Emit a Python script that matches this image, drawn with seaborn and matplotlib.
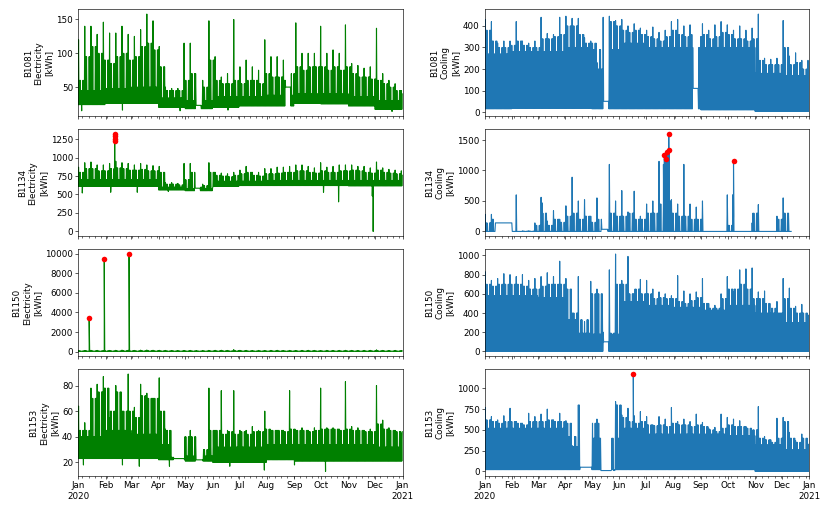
import numpy as np
import pandas as pd
import matplotlib
matplotlib.use("Agg")
import matplotlib.pyplot as plt
import matplotlib.dates as mdates
import seaborn as sns

# weekly peak / weekly typical weekday high, monthly weekend high and night low,
# all read off the reference picture
B1081_ELEC_PEAK = [120, 140, 140, 128, 146, 130, 130, 140, 128, 125, 135, 158, 148, 110, 50, 48, 48, 115,
                   115, 55, 60, 148, 95, 65, 70, 150, 80, 90, 80, 75, 120, 95, 95, 90, 105, 145, 100, 100,
                   100, 140, 100, 105, 100, 142, 85, 82, 78, 80, 137, 70, 60, 55, 45]
B1081_ELEC_BASE = [60, 95, 110, 100, 90, 85, 95, 100, 90, 95, 110, 115, 105, 80, 45, 45, 45, 60,
                   70, 22, 50, 90, 60, 55, 55, 60, 55, 60, 60, 55, 70, 65, 65, 60, 70, 80, 75, 80,
                   80, 80, 75, 80, 75, 80, 70, 65, 65, 62, 60, 55, 50, 45, 40]
B1081_ELEC_WEEKEND = [45, 48, 50, 34, 30, 36, 36, 38, 40, 40, 36, 30]
B1081_ELEC_FLOOR = [24, 26, 26, 20, 18, 20, 22, 22, 26, 25, 22, 17]
B1081_ELEC_FLATS = [("2020-05-13", "2020-05-18", 23), ("2020-08-22", "2020-08-27", 50)]
B1081_ELEC_SPIKES = [("2020-01-05 03:00", 15), ("2020-02-20 03:00", 16), ("2020-04-25 03:00", 15),
                     ("2020-06-18 03:00", 16), ("2020-12-20 03:00", 14)]

B1081_COOL_PEAK = [430, 420, 320, 330, 330, 420, 330, 320, 330, 440, 365, 360, 440, 445, 435, 435, 345, 330,
                   230, 440, 445, 425, 430, 400, 410, 390, 380, 395, 370, 380, 420, 430, 400, 405, 400, 410,
                   380, 405, 420, 405, 380, 400, 380, 390, 455, 250, 245, 250, 425, 260, 275, 240, 240]
B1081_COOL_BASE = [380, 330, 300, 300, 310, 330, 310, 300, 300, 340, 340, 350, 360, 400, 400, 360, 320, 320,
                   200, 440, 420, 400, 380, 370, 380, 360, 350, 340, 330, 350, 380, 360, 350, 360, 350, 360,
                   340, 350, 370, 360, 340, 340, 330, 340, 240, 220, 220, 220, 300, 220, 230, 200, 200]
B1081_COOL_WEEKEND = [270, 280, 280, 300, 290, 320, 300, 300, 300, 300, 180, 170]
B1081_COOL_FLOOR = [15, 18, 18, 18, 15, 15, 15, 15, 10, 10, 3, 3]
B1081_COOL_FLATS = [("2020-05-14", "2020-05-19", 50), ("2020-08-23", "2020-08-28", 110)]

B1134_ELEC_PEAK = [870, 930, 940, 900, 900, 920, 950, 930, 920, 900, 920, 900, 890, 880, 660, 660, 650, 920,
                   920, 640, 640, 930, 800, 790, 780, 800, 830, 880, 800, 800, 850, 850, 870, 870, 880, 900,
                   900, 880, 860, 930, 870, 880, 900, 900, 900, 880, 880, 860, 940, 860, 840, 830, 820]
B1134_ELEC_BASE = [800, 850, 850, 820, 820, 850, 860, 850, 830, 830, 840, 820, 820, 800, 640, 640, 630, 700,
                   800, 600, 620, 800, 760, 750, 740, 760, 780, 800, 760, 750, 780, 780, 790, 800, 800, 820,
                   820, 800, 790, 820, 800, 800, 820, 820, 830, 820, 800, 790, 830, 800, 790, 780, 760]
B1134_ELEC_WEEKEND = [700, 700, 700, 600, 580, 680, 680, 690, 690, 690, 690, 690]
B1134_ELEC_FLOOR = [610, 610, 610, 560, 550, 610, 620, 620, 620, 620, 615, 615]
B1134_ELEC_FLATS = [("2020-05-12", "2020-05-17", 585)]
B1134_ELEC_SPIKES = [("2020-01-05 20:00", 520), ("2020-02-06 20:00", 530), ("2020-03-07 20:00", 530),
                     ("2020-04-11 20:00", 540), ("2020-10-03 20:00", 530), ("2020-10-20 20:00", 400),
                     ("2020-11-27 20:00", 480), ("2020-11-28 20:00", 0)]
B1134_ELEC_OUT = [("2020-02-11 06:00", 1318), ("2020-02-11 08:00", 1291), ("2020-02-11 10:00", 1246),
                  ("2020-02-11 12:00", 1224)]

B1134_COOL_PEAK = [280, 280, 140, 140, 300, 600, 10, 10, 140, 560, 170, 340, 200, 420, 890, 500, 520, 250,
                   550, 470, 1100, 500, 670, 320, 660, 250, 450, 500, 1150, 1150, 520, 450, 1100, 450, 400,
                   500, 0, 0, 0, 600, 250, 0, 0, 140, 440, 0, 0, 250, 550, 0, 0, 0, 0]
B1134_COOL_BASE = [140, 200, 140, 140, 0, 0, 5, 5, 100, 300, 100, 200, 150, 250, 300, 200, 250, 150,
                   200, 30, 300, 250, 250, 300, 200, 200, 300, 300, 450, 500, 300, 250, 250, 200, 200, 0,
                   0, 0, 0, 100, 0, 0, 0, 300, 0, 0, 0, 200, 300, 0, 0, 0, 0]
B1134_COOL_WEEKEND = [0, 0, 0, 0, 0, 0, 0, 0, 0, 0, 0, 0]
B1134_COOL_FLOOR = [0, 0, 0, 0, 0, 0, 0, 0, 0, 0, 0, 0]
B1134_COOL_FLATS = [("2020-01-13", "2020-01-31", 140), ("2020-05-12", "2020-05-18", 35),
                    ("2020-12-12", "2020-12-31", np.nan)]
B1134_COOL_SPIKES = [("2020-03-05 14:00", 470), ("2020-07-20 14:00", 1100), ("2020-07-22 14:00", 1150),
                     ("2020-07-25 14:00", 1150), ("2020-10-06 14:00", 600)]
B1134_COOL_OUT = [("2020-07-21 14:00", 1262), ("2020-07-23 14:00", 1196), ("2020-07-24 14:00", 1306),
                  ("2020-07-26 10:00", 1344), ("2020-07-26 14:00", 1598), ("2020-10-07 14:00", 1150)]

B1150_ELEC_PEAK = [120, 110, 130, 120, 110, 120, 130, 150, 140, 120, 150, 160, 140, 130, 120, 110, 100, 110,
                   120, 100, 110, 120, 130, 140, 120, 200, 130, 120, 110, 120, 110, 120, 130, 110, 120, 110,
                   120, 130, 120, 110, 120, 110, 120, 130, 120, 110, 120, 130, 180, 120, 110, 120, 110]
B1150_ELEC_BASE = [70, 80, 75, 70, 80, 75, 70, 90, 80, 75, 85, 90, 80, 75, 70, 70, 65, 70,
                   70, 60, 65, 70, 75, 80, 70, 90, 75, 70, 65, 70, 65, 70, 75, 65, 70, 65,
                   70, 75, 70, 65, 70, 65, 70, 75, 70, 65, 70, 75, 80, 70, 65, 70, 65]
B1150_ELEC_WEEKEND = [40, 40, 40, 40, 40, 40, 40, 40, 40, 40, 40, 40]
B1150_ELEC_FLOOR = [20, 20, 20, 20, 20, 20, 20, 20, 20, 20, 20, 20]
B1150_ELEC_OUT = [("2020-01-13 14:00", 3470), ("2020-01-30 14:00", 9520), ("2020-02-27 14:00", 9980)]

B1150_COOL_PEAK = [830, 740, 760, 810, 800, 780, 800, 740, 760, 780, 820, 780, 940, 760, 400, 780, 310, 730,
                   650, 200, 850, 1015, 740, 990, 600, 750, 740, 650, 620, 600, 580, 790, 630, 600, 620, 760,
                   500, 480, 600, 780, 620, 850, 860, 870, 620, 630, 400, 520, 760, 660, 470, 490, 380]
B1150_COOL_BASE = [700, 680, 700, 700, 700, 700, 680, 650, 650, 680, 700, 700, 700, 650, 400, 190, 190, 600,
                   600, 100, 190, 700, 700, 600, 650, 600, 600, 550, 560, 550, 550, 520, 500, 530, 560, 500,
                   450, 450, 550, 650, 650, 700, 650, 550, 550, 500, 450, 400, 550, 450, 400, 400, 350]
B1150_COOL_WEEKEND = [580, 580, 560, 330, 180, 520, 480, 460, 430, 480, 400, 300]
B1150_COOL_FLOOR = [0, 0, 0, 0, 0, 0, 0, 0, 0, 0, 0, 0]
B1150_COOL_FLATS = [("2020-05-14", "2020-05-19", 100)]

B1153_ELEC_PEAK = [64, 51, 78, 81, 87, 55, 80, 60, 89, 63, 81, 74, 70, 86, 46, 24, 24, 86, 45, 22, 53, 78,
                   45, 76, 45, 76, 45, 45, 48, 45, 60, 45, 45, 45, 76, 45, 47, 45, 47, 78, 47, 47, 46, 83,
                   48, 47, 45, 46, 80, 53, 47, 45, 43]
B1153_ELEC_BASE = [45, 45, 70, 75, 78, 60, 75, 60, 60, 55, 72, 70, 70, 60, 45, 24, 24, 40, 40, 22, 30, 45,
                   45, 42, 44, 42, 44, 42, 44, 44, 46, 45, 45, 44, 46, 45, 45, 44, 45, 46, 46, 46, 45, 46,
                   45, 45, 44, 44, 50, 46, 45, 44, 44]
B1153_ELEC_WEEKEND = [40, 45, 42, 34, 25, 32, 32, 34, 34, 34, 34, 32]
B1153_ELEC_FLOOR = [23, 23, 23, 22, 21, 20, 20, 22, 21, 21, 21, 21]
B1153_ELEC_FLATS = [("2020-04-18", "2020-04-29", 23), ("2020-05-13", "2020-05-20", 22)]
B1153_ELEC_SPIKES = [("2020-01-07 03:00", 18), ("2020-02-20 03:00", 18), ("2020-03-10 03:00", 17),
                     ("2020-04-13 03:00", 17), ("2020-06-20 03:00", 17), ("2020-07-29 03:00", 14),
                     ("2020-09-01 03:00", 18), ("2020-10-06 03:00", 13)]

B1153_COOL_PEAK = [770, 660, 620, 670, 760, 600, 580, 700, 660, 690, 750, 620, 700, 610, 310, 800, 50, 590,
                   630, 10, 880, 840, 680, 760, 670, 720, 660, 560, 660, 630, 770, 600, 630, 600, 690, 590,
                   520, 530, 690, 650, 630, 610, 540, 480, 780, 420, 380, 640, 650, 470, 370, 450, 330]
B1153_COOL_BASE = [620, 600, 580, 600, 600, 580, 560, 600, 600, 600, 620, 600, 600, 580, 300, 50, 50, 580,
                   580, 10, 10, 800, 650, 600, 580, 600, 560, 550, 560, 540, 580, 560, 560, 540, 560, 540,
                   500, 480, 520, 560, 540, 540, 520, 500, 400, 380, 350, 400, 600, 400, 350, 400, 300]
B1153_COOL_WEEKEND = [520, 520, 520, 420, 400, 520, 450, 450, 450, 430, 320, 260]
B1153_COOL_FLOOR = [20, 20, 20, 20, 20, 20, 20, 20, 20, 20, 0, 0]
B1153_COOL_FLATS = [("2020-04-18", "2020-04-30", 50), ("2020-05-11", "2020-05-22", 10)]
B1153_COOL_SPIKES = [("2020-04-16 14:00", 800)]
B1153_COOL_OUT = [("2020-06-16 14:00", 1173)]

Y_TICKS = {
    "B1081 Electricity": [50, 100, 150],
    "B1081 Cooling": [0, 100, 200, 300, 400],
    "B1134 Electricity": [0, 250, 500, 750, 1000, 1250],
    "B1134 Cooling": [0, 500, 1000, 1500],
    "B1150 Electricity": [0, 2000, 4000, 6000, 8000, 10000],
    "B1150 Cooling": [0, 200, 400, 600, 800, 1000],
    "B1153 Electricity": [20, 40, 60, 80],
    "B1153 Cooling": [0, 250, 500, 750, 1000],
}


def make_series(peak, base, weekend, floor, flats=(), spikes=(), outliers=()):
    """a night low and a day high per day (weekly peak on Wednesdays), then flats / extra points"""
    days = pd.date_range("2020-01-01", "2020-12-31", freq="D")
    times, vals = [], []
    for i, day in enumerate(days):
        m, k = day.month - 1, i // 7
        if day.weekday() >= 5:
            hi = weekend[m]
        elif day.weekday() == 2:
            hi = peak[k]
        else:
            hi = base[k]
        times += [day + pd.Timedelta(hours=3), day + pd.Timedelta(hours=14)]
        vals += [floor[m], hi]
    s = pd.Series(vals, index=pd.DatetimeIndex(times), dtype=float)
    for start, end, v in flats:
        s.loc[start:end] = v
    extra = list(spikes) + list(outliers)
    if extra:
        ex = pd.Series([v for _, v in extra], index=pd.DatetimeIndex([t for t, _ in extra]), dtype=float)
        s = pd.concat([s, ex]).sort_index()
    return s


panels = [
    ("B1081", "Electricity", make_series(B1081_ELEC_PEAK, B1081_ELEC_BASE, B1081_ELEC_WEEKEND, B1081_ELEC_FLOOR,
                                         B1081_ELEC_FLATS, B1081_ELEC_SPIKES), []),
    ("B1081", "Cooling", make_series(B1081_COOL_PEAK, B1081_COOL_BASE, B1081_COOL_WEEKEND, B1081_COOL_FLOOR,
                                     B1081_COOL_FLATS), []),
    ("B1134", "Electricity", make_series(B1134_ELEC_PEAK, B1134_ELEC_BASE, B1134_ELEC_WEEKEND, B1134_ELEC_FLOOR,
                                         B1134_ELEC_FLATS, B1134_ELEC_SPIKES, B1134_ELEC_OUT), B1134_ELEC_OUT),
    ("B1134", "Cooling", make_series(B1134_COOL_PEAK, B1134_COOL_BASE, B1134_COOL_WEEKEND, B1134_COOL_FLOOR,
                                     B1134_COOL_FLATS, B1134_COOL_SPIKES, B1134_COOL_OUT), B1134_COOL_OUT),
    ("B1150", "Electricity", make_series(B1150_ELEC_PEAK, B1150_ELEC_BASE, B1150_ELEC_WEEKEND, B1150_ELEC_FLOOR,
                                         outliers=B1150_ELEC_OUT), B1150_ELEC_OUT),
    ("B1150", "Cooling", make_series(B1150_COOL_PEAK, B1150_COOL_BASE, B1150_COOL_WEEKEND, B1150_COOL_FLOOR,
                                     B1150_COOL_FLATS), []),
    ("B1153", "Electricity", make_series(B1153_ELEC_PEAK, B1153_ELEC_BASE, B1153_ELEC_WEEKEND, B1153_ELEC_FLOOR,
                                         B1153_ELEC_FLATS, B1153_ELEC_SPIKES), []),
    ("B1153", "Cooling", make_series(B1153_COOL_PEAK, B1153_COOL_BASE, B1153_COOL_WEEKEND, B1153_COOL_FLOOR,
                                     B1153_COOL_FLATS, B1153_COOL_SPIKES, B1153_COOL_OUT), B1153_COOL_OUT),
]

plt.rcParams["font.size"] = 6.3
fig, axes = plt.subplots(4, 2, figsize=(8.3, 5.11), dpi=100, sharex=True)
fig.subplots_adjust(left=0.094, right=0.975, top=0.982, bottom=0.068, wspace=0.253, hspace=0.12)

for ax, (bld, kind, s, outl) in zip(axes.flat, panels):
    color = "green" if kind == "Electricity" else "#1f77b4"
    sns.lineplot(x=s.index, y=s.values, ax=ax, color=color, linewidth=0.8, estimator=None)
    if outl:
        sns.scatterplot(x=pd.DatetimeIndex([t for t, _ in outl]), y=[v for _, v in outl], ax=ax,
                        color="red", s=16, linewidth=0, zorder=3)
    ax.set_yticks(Y_TICKS[f"{bld} {kind}"])
    ax.set_ylabel(f"{bld}\n{kind}\n[kWh]", fontsize=6.3, labelpad=2)
    ax.set_xlabel("")
    ax.tick_params(which="major", labelsize=6.3, length=2, width=0.45, pad=1.5)
    ax.tick_params(which="minor", length=1.2, width=0.4)
    for sp in ax.spines.values():
        sp.set_linewidth(0.45)


def month_fmt(x, pos=None):
    d = mdates.num2date(x)
    return d.strftime("%b\n%Y") if d.month == 1 else d.strftime("%b")


ax0 = axes[-1, 0]
ax0.xaxis.set_major_locator(mdates.MonthLocator())
ax0.xaxis.set_major_formatter(plt.FuncFormatter(month_fmt))
ax0.xaxis.set_minor_locator(mdates.WeekdayLocator(byweekday=mdates.MO))
ax0.set_xlim(pd.Timestamp("2020-01-01"), pd.Timestamp("2021-01-01"))
for ax in axes[-1]:
    for lbl in ax.get_xticklabels():
        lbl.set_ha("center")

fig.savefig("out.png", dpi=100)
